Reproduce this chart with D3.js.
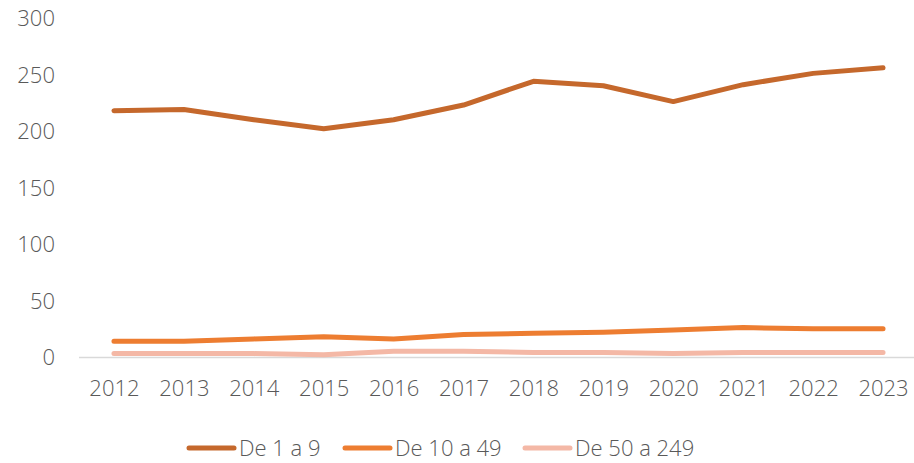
<!DOCTYPE html>
<html>
<head>
<meta charset="utf-8">
<script src="https://cdn.jsdelivr.net/npm/d3@7"></script>
<style>
  body { margin: 0; background: #fff; }
  svg { display: block; font-family: 'Open Sans', sans-serif; font-weight: 300; }
</style>
</head>
<body>
<div id="chart"></div>
<script>
const years = ['2012', '2013', '2014', '2015', '2016', '2017', '2018', '2019', '2020', '2021', '2022', '2023'];
const small = [218, 219, 210, 202, 210, 223, 244, 240, 226, 241, 251, 256];
const medium = [14, 14, 16, 18, 16, 20, 21, 22, 24, 26, 25, 25];
const large = [3, 3, 3, 2, 5, 5, 4, 4, 3, 4, 4, 4];
const seriesNames = ['De 1 a 9', 'De 10 a 49', 'De 50 a 249'];
const yTicks = [0, 50, 100, 150, 200, 250, 300];

const colors = ['#C5682C', '#ED7D31', '#F4B8A6'];
const series = [small, medium, large].map((values, i) => ({
  name: seriesNames[i],
  color: colors[i],
  values: values
}));

const width = 914;
const height = 463;
const margin = { top: 18, right: 0, bottom: 106, left: 79 };

const svg = d3.select('#chart')
  .append('svg')
  .attr('width', width)
  .attr('height', height);

const x = d3.scalePoint()
  .domain(years)
  .range([margin.left, 918])
  .padding(0.5);

const y = d3.scaleLinear()
  .domain([0, 300])
  .range([height - margin.bottom, margin.top]);

// y axis labels, no line
const yAxis = svg.append('g')
  .attr('transform', `translate(${margin.left - 24},0)`)
  .call(d3.axisLeft(y).tickValues(yTicks).tickSize(0).tickPadding(0));
yAxis.select('.domain').remove();
yAxis.selectAll('text')
  .attr('fill', '#595959')
  .attr('font-size', 22)
  .attr('font-family', 'Open Sans, sans-serif')
  .attr('dy', '0.35em');

// baseline
svg.append('line')
  .attr('x1', margin.left)
  .attr('x2', width)
  .attr('y1', y(0) + 0.5)
  .attr('y2', y(0) + 0.5)
  .attr('stroke', '#D9D9D9')
  .attr('stroke-width', 1.5);

const xAxis = svg.append('g')
  .attr('transform', `translate(0,${y(0)})`)
  .call(d3.axisBottom(x).tickSize(0).tickPadding(23));
xAxis.select('.domain').remove();
xAxis.selectAll('text')
  .attr('fill', '#595959')
  .attr('font-size', 22)
  .attr('font-family', 'Open Sans, sans-serif');

const line = d3.line()
  .x((d, i) => x(years[i]))
  .y((d) => y(d));

// draw back to front so the dark series sits on top
svg.append('g')
  .selectAll('path')
  .data(series.slice().reverse())
  .join('path')
  .attr('d', (d) => line(d.values))
  .attr('fill', 'none')
  .attr('stroke', (d) => d.color)
  .attr('stroke-width', 5)
  .attr('stroke-linecap', 'round')
  .attr('stroke-linejoin', 'round');

// legend
const legendX = [187, 343, 523];
const legend = svg.append('g')
  .selectAll('g')
  .data(series)
  .join('g')
  .attr('transform', (d, i) => `translate(${legendX[i]},448)`);

legend.append('line')
  .attr('x1', 2)
  .attr('x2', 47)
  .attr('stroke', (d) => d.color)
  .attr('stroke-width', 5)
  .attr('stroke-linecap', 'round');

legend.append('text')
  .attr('x', 52)
  .attr('dy', '0.35em')
  .attr('fill', '#595959')
  .attr('font-size', 22)
  .text((d) => d.name);
</script>
</body>
</html>
